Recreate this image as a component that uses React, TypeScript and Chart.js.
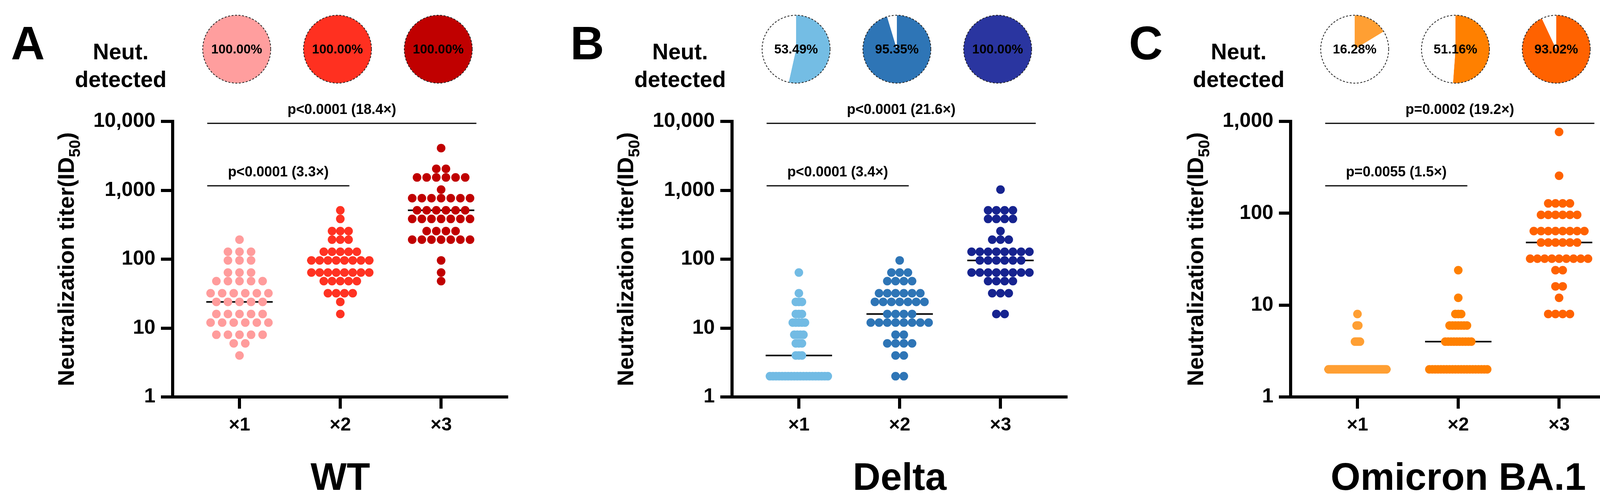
import React, { useEffect, useRef } from 'react';
import { Chart, registerables } from 'chart.js';

Chart.register(...registerables);

const FONT = "'Liberation Sans', Arial, Helvetica, sans-serif";
Chart.defaults.font.family = FONT;

// ---------------- data ----------------
const categories = ['×1', '×2', '×3'];
const panelLetters = ['A', 'B', 'C'];
const variantNames = ['WT', 'Delta', 'Omicron BA.1'];

// Neutralization titers (ID50): distinct values and number of subjects at each value
const wtDose1Values = [4, 6, 8, 12, 16, 24, 32, 48, 64, 96, 128, 192];
const wtDose1Counts = [1, 2, 5, 6, 5, 5, 6, 5, 3, 3, 3, 1];
const wtDose2Values = [16, 24, 32, 48, 64, 96, 128, 192, 256, 384, 512];
const wtDose2Counts = [1, 1, 4, 5, 8, 8, 5, 3, 3, 1, 1];
const wtDose3Values = [48, 64, 96, 192, 256, 384, 512, 768, 1024, 1536, 2048, 4096];
const wtDose3Counts = [1, 1, 1, 7, 4, 7, 6, 7, 1, 6, 2, 1];

const deltaDose1Values = [2, 4, 6, 8, 12, 16, 24, 32, 64];
const deltaDose1Counts = [20, 3, 3, 4, 5, 3, 3, 1, 1];
const deltaDose2Values = [2, 4, 6, 8, 12, 16, 24, 32, 48, 64, 96];
const deltaDose2Counts = [2, 2, 4, 2, 8, 4, 7, 6, 4, 3, 1];
const deltaDose3Values = [16, 32, 48, 64, 96, 128, 192, 256, 384, 512, 1024];
const deltaDose3Counts = [2, 3, 4, 8, 6, 8, 3, 1, 4, 4, 1];

const omicronDose1Values = [2, 4, 6, 8];
const omicronDose1Counts = [36, 4, 2, 1];
const omicronDose2Values = [2, 4, 6, 8, 12, 24];
const omicronDose2Counts = [21, 10, 7, 3, 1, 1];
const omicronDose3Values = [8, 12, 16, 24, 32, 48, 64, 96, 128, 256, 768];
const omicronDose3Counts = [4, 1, 2, 2, 9, 6, 8, 6, 4, 1, 1];

// Percentage with neutralization detected
const wtDetected = [100, 100, 100];
const deltaDetected = [53.49, 95.35, 100];
const omicronDetected = [16.28, 51.16, 93.02];

// Comparisons: [from, to] dose, label
const comparisonPairs = [[1, 2], [1, 3]];
const wtPLabels = ['p<0.0001 (3.3×)', 'p<0.0001 (18.4×)'];
const deltaPLabels = ['p<0.0001 (3.4×)', 'p<0.0001 (21.6×)'];
const omicronPLabels = ['p=0.0055 (1.5×)', 'p=0.0002 (19.2×)'];

// y-axis ticks
const wtYTicks = [1, 10, 100, 1000, 10000];
const deltaYTicks = [1, 10, 100, 1000, 10000];
const omicronYTicks = [1, 10, 100, 1000];

// ---------------- styles / layout ----------------
const H = 1281;
const AXIS_LEFT = 442; // chart area left inside each panel canvas
const PLOT_W = 855;
const PLOT_TOP = 311;
const X_AXIS_H = 264;
const XMIN = 0.337;
const XMAX = 3.65;
const UNIT_PX = PLOT_W / (XMAX - XMIN);
const DOT_R = 11;
const ROW_SPAN_PX = 148;
const MAX_SPACING_PX = 30;
const MEDIAN_HALF_PX = 85;

const panelStyles = [
  {
    left: 0, width: 1420,
    dotColors: ['#FF9C9C', '#FF3222', '#C00000'],
    pieColors: ['#FF9E9E', '#FF3020', '#C00000'],
  },
  {
    left: 1432, width: 1420,
    dotColors: ['#72BBE4', '#2E75B6', '#16238F'],
    pieColors: ['#74BDE4', '#2E75B6', '#2A35A0'],
  },
  {
    left: 2862, width: 1313,
    dotColors: ['#FF9F33', '#FF8000', '#FF6200'],
    pieColors: ['#FF9F33', '#FF8000', '#FF6200'],
  },
];

const panelData = [
  {
    groups: [[wtDose1Values, wtDose1Counts], [wtDose2Values, wtDose2Counts], [wtDose3Values, wtDose3Counts]],
    detected: wtDetected, pLabels: wtPLabels, yTicks: wtYTicks,
  },
  {
    groups: [[deltaDose1Values, deltaDose1Counts], [deltaDose2Values, deltaDose2Counts], [deltaDose3Values, deltaDose3Counts]],
    detected: deltaDetected, pLabels: deltaPLabels, yTicks: deltaYTicks,
  },
  {
    groups: [[omicronDose1Values, omicronDose1Counts], [omicronDose2Values, omicronDose2Counts], [omicronDose3Values, omicronDose3Counts]],
    detected: omicronDetected, pLabels: omicronPLabels, yTicks: omicronYTicks,
  },
];

function swarm(values: number[], counts: number[], cat: number) {
  const maxCount = Math.max(...counts);
  const spacingPx = maxCount > 1 ? Math.min(MAX_SPACING_PX, ROW_SPAN_PX / (maxCount - 1)) : 0;
  const du = spacingPx / UNIT_PX;
  const pts: { x: number; y: number }[] = [];
  values.forEach((v, i) => {
    const n = counts[i];
    for (let k = 0; k < n; k++) pts.push({ x: cat + (k - (n - 1) / 2) * du, y: v });
  });
  return pts;
}

function median(values: number[], counts: number[]) {
  const all: number[] = [];
  values.forEach((v, i) => { for (let k = 0; k < counts[i]; k++) all.push(v); });
  all.sort((a, b) => a - b);
  const n = all.length;
  if (n % 2 === 1) return all[(n - 1) / 2];
  return Math.sqrt(all[n / 2 - 1] * all[n / 2]);
}

const fmt = (v: number) => Number(v).toLocaleString('en-US');

function makeAnnotPlugin(pi: number) {
  const d = panelData[pi];
  return {
    id: 'annot' + pi,
    afterDraw(chart: any) {
      const { ctx, chartArea, scales } = chart;
      const xs = scales.x;
      const ax = chartArea.left;
      ctx.save();
      ctx.fillStyle = '#000';
      ctx.strokeStyle = '#000';
      // panel letter
      ctx.textBaseline = 'alphabetic';
      ctx.textAlign = 'left';
      ctx.font = `bold 120px ${FONT}`;
      ctx.fillText(panelLetters[pi], ax - 414, 152);
      // Neut. detected
      ctx.textAlign = 'center';
      ctx.font = `bold 57px ${FONT}`;
      ctx.fillText('Neut.', ax - 133, 152);
      ctx.fillText('detected', ax - 133, 223);
      // comparison brackets
      const lineYs = [chartArea.top + 165, chartArea.top + 5];
      const ends = [[0.68, 2.09], [0.68, 3.35]];
      comparisonPairs.forEach((pair, ci) => {
        const x1 = xs.getPixelForValue(ends[ci][0] + (pair[0] - 1));
        const x2 = xs.getPixelForValue(ends[ci][1] + (pair[1] - (ci === 0 ? 2 : 3)));
        const ly = lineYs[ci];
        ctx.lineWidth = 3;
        ctx.beginPath();
        ctx.moveTo(x1, ly);
        ctx.lineTo(x2, ly);
        ctx.stroke();
        ctx.font = `bold 36px ${FONT}`;
        ctx.textAlign = 'center';
        ctx.fillText(d.pLabels[ci], (x1 + x2) / 2, ly - 24);
      });
      // x-axis title (variant)
      ctx.font = `bold 98px ${FONT}`;
      ctx.textAlign = 'center';
      ctx.fillText(variantNames[pi], xs.getPixelForValue(2), 1255);
      // y-axis title with subscript
      ctx.font = `bold 52px ${FONT}`;
      let maxW = 0;
      d.yTicks.forEach((t) => { maxW = Math.max(maxW, ctx.measureText(fmt(t)).width); });
      const labelLeft = ax - 30 - 14 - maxW;
      const baseX = labelLeft - 50;
      const cy = (chartArea.top + chartArea.bottom) / 2;
      const main = 'Neutralization titer(ID';
      const sub = '50';
      const close = ')';
      const mainFont = `bold 58px ${FONT}`;
      const subFont = `bold 40px ${FONT}`;
      ctx.font = mainFont;
      const w1 = ctx.measureText(main).width;
      const w3 = ctx.measureText(close).width;
      ctx.font = subFont;
      const w2 = ctx.measureText(sub).width;
      const total = w1 + w2 + w3;
      ctx.translate(baseX, cy);
      ctx.rotate(-Math.PI / 2);
      ctx.textAlign = 'left';
      ctx.font = mainFont;
      ctx.fillText(main, -total / 2, 0);
      ctx.font = subFont;
      ctx.fillText(sub, -total / 2 + w1, 16);
      ctx.font = mainFont;
      ctx.fillText(close, -total / 2 + w1 + w2, 0);
      ctx.restore();
    },
  };
}

function Panel({ pi }: { pi: number }) {
  const ref = useRef<HTMLCanvasElement>(null);
  const st = panelStyles[pi];
  useEffect(() => {
    const d = panelData[pi];
    const datasets: any[] = [];
    d.groups.forEach(([vals, cnts], gi) => {
      const cat = gi + 1;
      datasets.push({
        type: 'scatter',
        data: swarm(vals, cnts, cat),
        backgroundColor: st.dotColors[gi],
        borderWidth: 0,
        pointRadius: DOT_R,
        pointHoverRadius: DOT_R,
        order: 0,
      });
      const med = median(vals, cnts);
      const half = MEDIAN_HALF_PX / UNIT_PX;
      datasets.push({
        type: 'scatter',
        showLine: true,
        data: [{ x: cat - half, y: med }, { x: cat + half, y: med }],
        borderColor: '#000',
        borderWidth: 4,
        pointRadius: 0,
        pointHoverRadius: 0,
        order: 1,
      });
    });
    const yMax = d.yTicks[d.yTicks.length - 1];
    const gridOpts = {
      drawOnChartArea: false,
      drawTicks: true,
      tickLength: 30,
      tickWidth: 8,
      tickColor: '#000',
      lineWidth: 8,
      color: '#000',
    };
    const chart = new Chart(ref.current as HTMLCanvasElement, {
      type: 'scatter',
      data: { datasets },
      options: {
        animation: false,
        responsive: false,
        devicePixelRatio: 1,
        events: [],
        layout: { padding: { top: PLOT_TOP, left: 0, right: st.width - AXIS_LEFT - PLOT_W, bottom: 0 } },
        plugins: { legend: { display: false }, tooltip: { enabled: false } },
        scales: {
          x: {
            type: 'linear',
            min: XMIN,
            max: XMAX,
            afterBuildTicks: (s: any) => { s.ticks = categories.map((_, i) => ({ value: i + 1 })); },
            afterFit: (s: any) => { s.height = X_AXIS_H; },
            ticks: {
              callback: (_v: any, i: number) => categories[i],
              font: { size: 48, weight: 'bold', family: FONT },
              color: '#000',
              padding: 14,
              autoSkip: false,
              maxRotation: 0,
            },
            grid: gridOpts,
            border: { display: true, width: 8, color: '#000' },
          },
          y: {
            type: 'logarithmic',
            min: 1,
            max: yMax,
            afterBuildTicks: (s: any) => { s.ticks = d.yTicks.map((v) => ({ value: v })); },
            afterFit: (s: any) => { s.width = AXIS_LEFT; },
            ticks: {
              callback: (v: any) => fmt(v),
              font: { size: 52, weight: 'bold', family: FONT },
              color: '#000',
              padding: 14,
              autoSkip: false,
            },
            grid: gridOpts,
            border: { display: true, width: 8, color: '#000' },
          },
        },
      } as any,
      plugins: [makeAnnotPlugin(pi)],
    });
    return () => chart.destroy();
  }, []);
  return (
    <canvas
      ref={ref}
      width={st.width}
      height={H}
      style={{ position: 'absolute', left: st.left, top: 0, width: st.width, height: H, display: 'block' }}
    />
  );
}

const PIE_SIZE = 180;
const PIE_CY = 126;

function PieChart({ pct, color, cx }: { pct: number; color: string; cx: number }) {
  const ref = useRef<HTMLCanvasElement>(null);
  useEffect(() => {
    const decor = {
      id: 'pieDecor',
      afterDraw(chart: any) {
        const arc = chart.getDatasetMeta(0).data[0];
        const { ctx } = chart;
        ctx.save();
        ctx.strokeStyle = '#222';
        ctx.lineWidth = 2;
        ctx.setLineDash([5, 4]);
        ctx.beginPath();
        ctx.arc(arc.x, arc.y, arc.outerRadius, 0, Math.PI * 2);
        ctx.stroke();
        ctx.setLineDash([]);
        ctx.fillStyle = '#000';
        ctx.font = `bold 33px ${FONT}`;
        ctx.textAlign = 'center';
        ctx.textBaseline = 'middle';
        ctx.fillText(pct.toFixed(2) + '%', arc.x, arc.y + 2);
        ctx.restore();
      },
    };
    const chart = new Chart(ref.current as HTMLCanvasElement, {
      type: 'pie',
      data: {
        labels: ['Detected', 'Not detected'],
        datasets: [{ data: [pct, 100 - pct], backgroundColor: [color, '#FFFFFF'], borderWidth: 0 }],
      },
      options: {
        animation: false,
        responsive: false,
        devicePixelRatio: 1,
        events: [],
        layout: { padding: 3 },
        plugins: { legend: { display: false }, tooltip: { enabled: false } },
      } as any,
      plugins: [decor],
    });
    return () => chart.destroy();
  }, []);
  return (
    <canvas
      ref={ref}
      width={PIE_SIZE}
      height={PIE_SIZE}
      style={{
        position: 'absolute',
        left: cx - PIE_SIZE / 2,
        top: PIE_CY - PIE_SIZE / 2,
        width: PIE_SIZE,
        height: PIE_SIZE,
        display: 'block',
      }}
    />
  );
}

export default function App() {
  const pies: any[] = [];
  panelData.forEach((d, pi) => {
    const st = panelStyles[pi];
    d.detected.forEach((pct, gi) => {
      const cx = st.left + AXIS_LEFT + (gi + 1 - XMIN) * UNIT_PX - 7;
      pies.push(<PieChart key={`${pi}-${gi}`} pct={pct} color={st.pieColors[gi]} cx={cx} />);
    });
  });
  return (
    <div style={{ position: 'fixed', left: 0, top: 0, width: 4175, height: H, background: '#fff', overflow: 'hidden' }}>
      {panelData.map((_, pi) => <Panel key={pi} pi={pi} />)}
      {pies}
    </div>
  );
}
